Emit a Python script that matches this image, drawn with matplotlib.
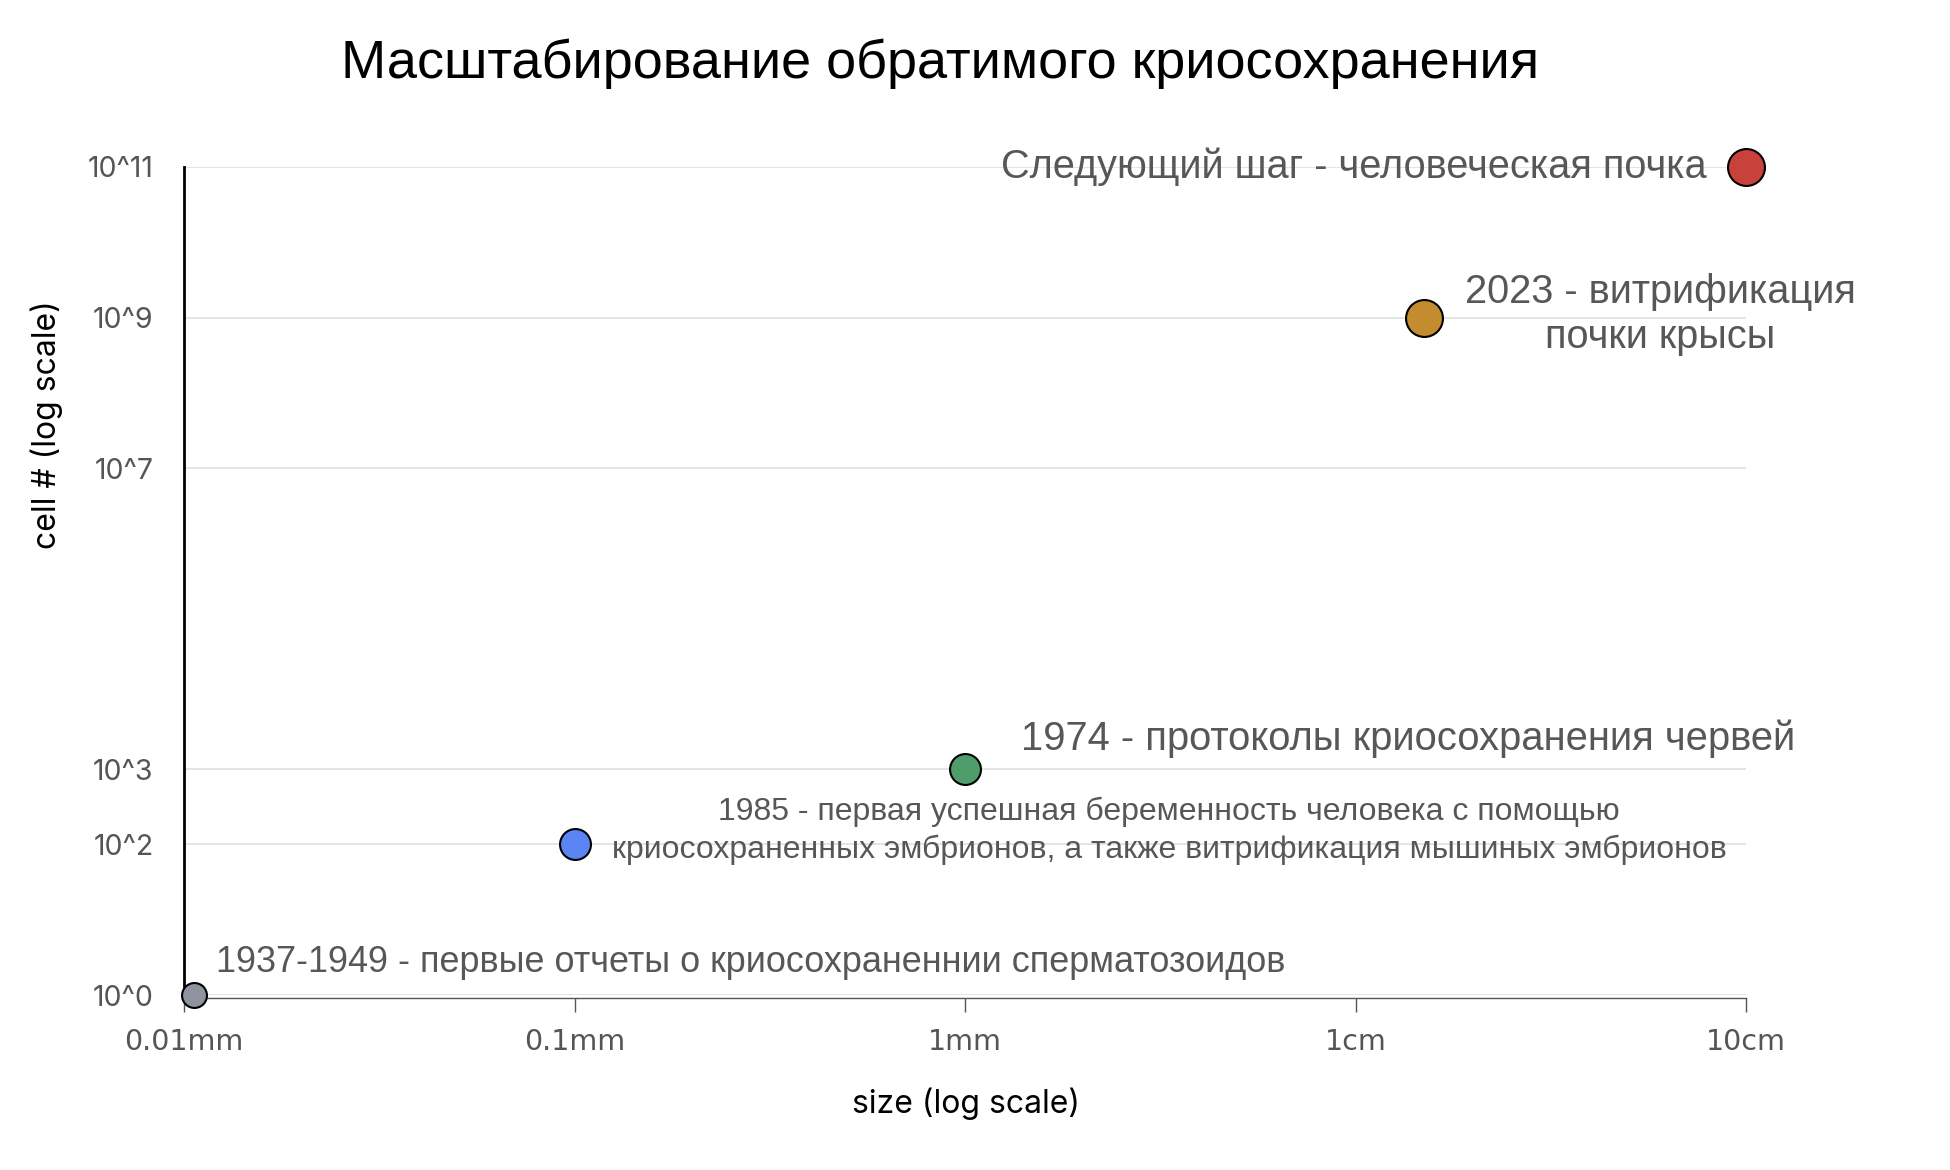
import matplotlib
matplotlib.use('Agg')
import matplotlib.pyplot as plt

# milestones: size of the thing that was cryopreserved vs. its cell count
events = ['1937-1949 - первые отчеты о криосохраненнии сперматозоидов',
          '1985 - первая успешная беременность человека с помощью\n'
          'криосохраненных эмбрионов, а также витрификация мышиных эмбрионов',
          '1974 - протоколы криосохранения червей',
          '2023 - витрификация\nпочки крысы',
          'Следующий шаг - человеческая почка']
size_mm = [0.0106, 0.1, 1, 15, 100]
cells = [1, 1e2, 1e3, 1e9, 1e11]

xticks = [0.01, 0.1, 1, 10, 100]
xticklabels = ['0.01mm', '0.1mm', '1mm', '1cm', '10cm']
yticks = [1, 1e2, 1e3, 1e7, 1e9, 1e11]
yticklabels = ['10^0', '10^2', '10^3', '10^7', '10^9', '10^11']

# look of each dot / label
colors = ['#8e939d', '#5b84f4', '#4e9d6b', '#c38c2e', '#c8413b']
dot_px = [27, 33, 33, 39, 39]
lab_off = [(16, 23.5), (428, 10), (40, 21.8), (170, 2), (-28, 0)]
lab_ha = ['left', 'center', 'left', 'center', 'right']
lab_fs = [25.9, 23, 28.8, 28.6, 28.6]
lab_ls = [1.15, 1.33, 1.15, 1.24, 1.15]

ANN = 'Liberation Sans'
UI = 'Inter'

fig = plt.figure(figsize=(19.5, 11.7), dpi=100)
ax = fig.add_axes([184 / 1950, 1 - 995 / 1170, (1746 - 184) / 1950, (995 - 167) / 1170])

ax.set_xscale('log')
ax.set_yscale('log')
ax.set_xlim(0.01, 100)
ax.set_ylim(1, 1e11)

ax.set_yticks(yticks)
ax.set_yticklabels(yticklabels)
ax.set_xticks(xticks)
ax.set_xticklabels(xticklabels)
ax.minorticks_off()
ax.tick_params(axis='y', length=0, pad=22, labelsize=20.5, labelcolor='#555555')
ax.tick_params(axis='x', length=10, width=1, color='#555555', pad=12,
               labelsize=20.5, labelcolor='#555555')
for t in ax.get_xticklabels() + ax.get_yticklabels():
    t.set_fontfamily(UI)

ax.grid(axis='y', color='#e2e2e2', linewidth=1.3)
ax.grid(axis='x', visible=False)
ax.set_axisbelow(True)

ax.spines['top'].set_visible(False)
ax.spines['right'].set_visible(False)
ax.spines['left'].set_color('black')
ax.spines['left'].set_linewidth(2.0)
ax.spines['bottom'].set_color('#555555')
ax.spines['bottom'].set_linewidth(1.0)
ax.spines['bottom'].set_position(('outward', 2))

for i in range(len(events)):
    ms = dot_px[i] * 0.72 - 1.5
    ax.plot(size_mm[i], cells[i], 'o', ms=ms, mfc=colors[i], mec='black',
            mew=1.5, clip_on=False, zorder=5)
    ax.annotate(events[i], (size_mm[i], cells[i]), xytext=lab_off[i],
                textcoords='offset points', ha=lab_ha[i], va='center',
                multialignment='center', fontsize=lab_fs[i], color='#575757',
                family=ANN, linespacing=lab_ls[i], annotation_clip=False)

fig.text(940 / 1950, 1 - 64 / 1170, 'Масштабирование обратимого криосохранения',
         ha='center', va='center', fontsize=39, family=ANN, color='black')
fig.text(966 / 1950, 1 - 1104 / 1170, 'size (log scale)', ha='center', va='center',
         fontsize=23, family=UI, color='black')
fig.text(47 / 1950, 1 - 425 / 1170, 'cell # (log scale)', ha='center', va='center',
         rotation=90, fontsize=23, family=UI, color='black')

fig.savefig('out.png', dpi=100, facecolor='white')
